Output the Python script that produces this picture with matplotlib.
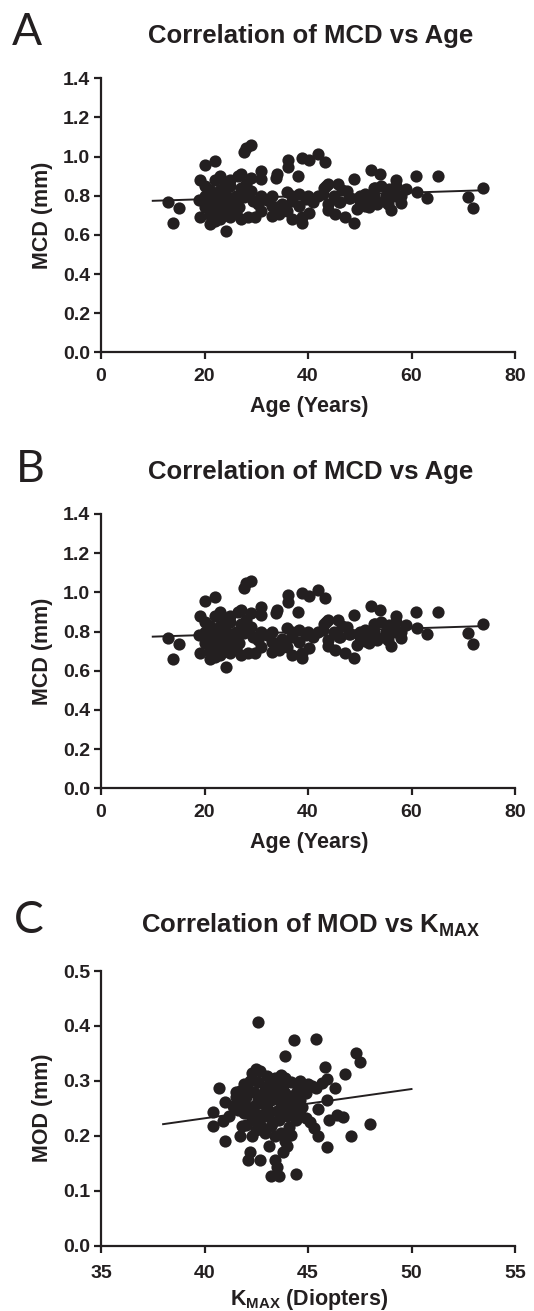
import matplotlib
matplotlib.use("Agg")
import matplotlib.pyplot as plt

# ---------------- data ----------------
age = [13.0, 15.0, 14.0, 20.0, 22.0, 19.1, 20.1, 19.1, 21.1, 24.1,
       28.0, 29.0, 27.7, 30.9, 31.0, 34.0, 33.8, 36.1, 36.1, 38.1,
       38.8, 40.1, 41.9, 43.2, 48.9, 52.1, 53.9, 57.0, 60.8, 65.2,
       73.9, 70.9, 71.9, 63.0, 61.0, 59.0, 58.0, 56.1, 48.8, 47.2,
       45.2, 43.9, 43.9, 43.9, 45.8, 47.5, 49.5, 50.1, 51.1, 52.8,
       53.4, 54.7, 55.7, 54.1, 38.9, 36.9, 38.9, 40.2, 38.3, 38.3,
       39.6, 36.9, 35.6, 34.3, 33.0, 33.0, 31.0, 29.7, 28.4, 27.0,
       26.7, 27.7, 29.3, 26.4, 27.0, 29.0, 28.0, 29.0, 30.3, 42.9,
       46.2, 48.1, 51.8, 56.7, 55.4, 52.8, 43.5, 46.5,
       22.0, 23.0, 24.0, 22.0, 23.0, 25.0, 24.0, 21.0, 20.0, 22.0,
       23.0, 25.0, 26.0, 24.0, 21.0, 23.0, 24.0, 25.0, 26.0, 22.0,
       20.0, 19.0, 21.0, 23.0, 24.0, 25.0, 22.0, 26.0, 27.0, 25.0,
       32.0, 33.0, 35.0, 36.0, 34.0, 31.0, 37.0, 36.0, 40.0, 41.0,
       42.0, 43.0, 45.0, 46.0, 48.0, 50.0, 52.0, 55.0, 57.0, 58.0,
       53.0, 51.0]
mcd = [0.769, 0.737, 0.662, 0.958, 0.976, 0.881, 0.851, 0.692, 0.658, 0.621,
       1.046, 1.060, 1.021, 0.927, 0.885, 0.910, 0.893, 0.985, 0.949, 0.902,
       0.995, 0.982, 1.012, 0.973, 0.885, 0.930, 0.910, 0.879, 0.902, 0.902,
       0.839, 0.794, 0.737, 0.786, 0.817, 0.834, 0.765, 0.726, 0.663, 0.689,
       0.706, 0.726, 0.757, 0.859, 0.859, 0.825, 0.731, 0.774, 0.808, 0.800,
       0.757, 0.774, 0.834, 0.851, 0.692, 0.680, 0.663, 0.714, 0.748, 0.808,
       0.782, 0.774, 0.731, 0.706, 0.697, 0.748, 0.800, 0.689, 0.689, 0.680,
       0.740, 0.791, 0.774, 0.902, 0.910, 0.893, 0.859, 0.825, 0.757, 0.808,
       0.770, 0.790, 0.740, 0.800, 0.757, 0.840, 0.850, 0.830,
       0.800, 0.770, 0.750, 0.720, 0.830, 0.790, 0.860, 0.780, 0.740, 0.880,
       0.900, 0.730, 0.760, 0.700, 0.700, 0.680, 0.820, 0.850, 0.800, 0.760,
       0.800, 0.780, 0.830, 0.740, 0.780, 0.690, 0.670, 0.710, 0.840, 0.880,
       0.780, 0.800, 0.760, 0.720, 0.740, 0.720, 0.800, 0.820, 0.800, 0.770,
       0.800, 0.840, 0.800, 0.770, 0.790, 0.800, 0.780, 0.800, 0.850, 0.800,
       0.840, 0.750]
fit_age = [10, 74]
fit_mcd = [0.774, 0.828]

kmax = [42.6, 44.3, 45.4, 43.9, 47.3, 47.5, 46.8, 45.8, 40.7, 46.3,
        45.9, 45.7, 45.4, 40.4, 40.4, 40.9, 41.0, 41.0, 41.7, 41.7,
        41.9, 42.2, 42.1, 42.7, 42.3, 43.1, 43.4, 43.5, 43.2, 43.6,
        44.4, 43.8, 44.0, 44.2, 45.5, 45.9, 47.1, 48.0, 46.7, 46.4,
        46.0, 45.5, 45.9, 45.3, 44.9, 44.4, 44.6, 44.4, 44.6, 44.9,
        45.2, 42.3, 42.7, 43.0, 43.4, 43.7, 43.9, 42.6, 42.9, 41.9,
        42.3, 42.6, 43.2, 43.6, 43.9, 43.7, 44.2, 44.0, 43.6, 43.1,
        42.7, 42.3, 41.9, 41.6, 41.8, 42.9, 43.2, 43.7, 43.4, 42.6,
        43.2, 43.5, 44.2, 43.9, 44.4, 44.7, 42.5, 41.5, 42.0,
        42.0, 42.4, 42.8, 43.3, 43.8, 44.1, 44.5, 44.8, 45.0, 42.2,
        43.0, 43.5, 42.9, 43.3, 44.1, 41.4, 41.2, 42.5, 43.9, 44.6,
        45.1, 42.0, 41.5, 43.0, 44.0, 42.4, 43.6, 44.3, 41.8, 42.8]
mod = [0.408, 0.375, 0.376, 0.346, 0.350, 0.335, 0.313, 0.325, 0.287, 0.287,
       0.303, 0.296, 0.287, 0.244, 0.218, 0.226, 0.261, 0.191, 0.200, 0.282,
       0.295, 0.170, 0.156, 0.155, 0.199, 0.181, 0.156, 0.143, 0.126, 0.126,
       0.131, 0.170, 0.182, 0.202, 0.199, 0.179, 0.199, 0.221, 0.234, 0.238,
       0.229, 0.248, 0.265, 0.214, 0.232, 0.229, 0.299, 0.278, 0.265, 0.278,
       0.291, 0.315, 0.318, 0.308, 0.305, 0.311, 0.305, 0.297, 0.284, 0.259,
       0.247, 0.265, 0.265, 0.271, 0.278, 0.253, 0.247, 0.235, 0.229, 0.241,
       0.220, 0.229, 0.241, 0.247, 0.217, 0.205, 0.217, 0.205, 0.199, 0.238,
       0.297, 0.291, 0.297, 0.259, 0.262, 0.253, 0.322, 0.270, 0.285,
       0.270, 0.280, 0.260, 0.280, 0.290, 0.270, 0.285, 0.290, 0.295, 0.300,
       0.290, 0.245, 0.235, 0.225, 0.215, 0.255, 0.235, 0.210, 0.190, 0.240,
       0.225, 0.220, 0.280, 0.250, 0.260, 0.255, 0.265, 0.255, 0.265, 0.275]
fit_k = [38, 50]
fit_mod = [0.221, 0.285]

titles = ["Correlation of MCD vs Age", "Correlation of MCD vs Age",
          r"Correlation of MOD vs K$_{\mathrm{MAX}}$"]
letters = ["A", "B", "C"]
xlabels = ["Age (Years)", "Age (Years)", r"K$_{\mathrm{MAX}}$ (Diopters)"]
ylabels = ["MCD (mm)", "MCD (mm)", "MOD (mm)"]

# ---------------- style ----------------
plt.rcParams['font.family'] = ['Liberation Sans', 'DejaVu Sans']
plt.rcParams['font.weight'] = 'bold'
plt.rcParams['mathtext.fontset'] = 'custom'
plt.rcParams['mathtext.rm'] = 'Liberation Sans:bold'
plt.rcParams['mathtext.it'] = 'Liberation Sans:bold'
plt.rcParams['mathtext.bf'] = 'Liberation Sans:bold'

INK = '#231f20'
W, H = 534, 1311
fig = plt.figure(figsize=(W / 100, H / 100), dpi=100)

# axes pixel boxes: (top, bottom)
boxes = [(78.3, 352.3), (514.0, 788.3), (971.0, 1245.5)]
left_px, right_px = 101.0, 515.0
title_base = [42.5, 478.5, 933.0]
letter_base = [45.0, 482.0, 933.0]
letter_x = [12.0, 16.0, 14.0]

datasets = [
    (age, mcd, fit_age, fit_mcd, (0, 80), [0, 20, 40, 60, 80], (0, 1.4),
     [0.0, 0.2, 0.4, 0.6, 0.8, 1.0, 1.2, 1.4], "{:.1f}"),
    (age, mcd, fit_age, fit_mcd, (0, 80), [0, 20, 40, 60, 80], (0, 1.4),
     [0.0, 0.2, 0.4, 0.6, 0.8, 1.0, 1.2, 1.4], "{:.1f}"),
    (kmax, mod, fit_k, fit_mod, (35, 55), [35, 40, 45, 50, 55], (0, 0.5),
     [0.0, 0.1, 0.2, 0.3, 0.4, 0.5], "{:.1f}"),
]

for i, (xs, ys, fx, fy, xlim, xt, ylim, yt, fmt) in enumerate(datasets):
    top, bot = boxes[i]
    ax = fig.add_axes([left_px / W, 1 - bot / H, (right_px - left_px) / W, (bot - top) / H])
    ax.plot(xs, ys, 'o', color=INK, markersize=8.8, markeredgewidth=0, clip_on=False, zorder=3)
    ax.plot(fx, fy, '-', color=INK, linewidth=1.4, zorder=2)
    ax.set_xlim(*xlim)
    ax.set_ylim(*ylim)
    ax.set_xticks(xt)
    ax.set_xticklabels([str(v) for v in xt])
    ax.set_yticks(yt)
    ax.set_yticklabels([fmt.format(v) for v in yt])
    for s in ['top', 'right']:
        ax.spines[s].set_visible(False)
    for s in ['left', 'bottom']:
        ax.spines[s].set_linewidth(1.6)
        ax.spines[s].set_color(INK)
    ax.tick_params(axis='both', direction='out', length=5, width=1.6, color=INK,
                   labelsize=14, labelcolor=INK)
    ax.tick_params(axis='x', pad=6.5 if i < 2 else 9)
    ax.tick_params(axis='y', pad=3)
    for lab in ax.get_xticklabels() + ax.get_yticklabels():
        lab.set_fontweight('bold')
    ax.set_xlabel(xlabels[i], fontsize=15.5, fontweight='bold', color=INK)
    ax.xaxis.label.set_verticalalignment('baseline')
    ax.xaxis.set_label_coords(0.503, -(59.5) / (bot - top))
    ax.set_ylabel(ylabels[i], fontsize=15.5, fontweight='bold', color=INK)
    ax.yaxis.set_label_coords((53 - left_px) / (right_px - left_px), 0.5)

    fig.text(311 / W, 1 - title_base[i] / H, titles[i], ha='center', va='baseline',
             fontsize=18.5, fontweight='bold', color=INK)
    fig.text(letter_x[i] / W, 1 - letter_base[i] / H, letters[i], ha='left', va='baseline',
             fontsize=32, fontweight='normal', family=['Lato', 'DejaVu Sans'], color=INK)

fig.savefig("out.png", dpi=100)
